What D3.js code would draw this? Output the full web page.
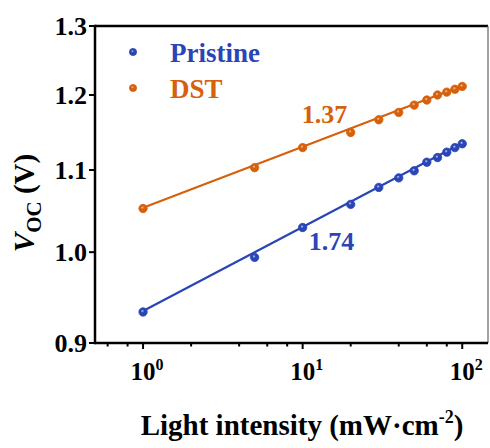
<!DOCTYPE html>
<html>
<head>
<meta charset="utf-8">
<script src="https://cdn.jsdelivr.net/npm/d3@7/dist/d3.min.js"></script>
<style>
  body { margin: 0; background: #fff; }
  svg { display: block; }
  svg text { font-family: "Liberation Serif", "Times New Roman", serif; font-weight: bold; }
</style>
</head>
<body>
<svg id="chart" width="490" height="448"></svg>
<script>
// ---- data ----
const intensity = [1, 5, 10, 20, 30, 40, 50, 60, 70, 80, 90, 100];
const pristineVoc = [0.933, 0.994, 1.029, 1.057, 1.078, 1.090, 1.099, 1.110, 1.116, 1.123, 1.129, 1.134];
const dstVoc = [1.052, 1.103, 1.129, 1.149, 1.166, 1.176, 1.186, 1.193, 1.200, 1.204, 1.208, 1.212];
// fitted lines (end points)
const pristineFit = [[1, 0.934], [100, 1.135]];
const dstFit = [[1, 1.053], [100, 1.213]];
const yTicks = [0.9, 1.0, 1.1, 1.2, 1.3];
const xMajor = [1, 10, 100];
const xMinor = [0.6, 0.8, 2, 4, 6, 8, 20, 40, 60, 80];
const seriesNames = ['Pristine', 'DST'];
const slopes = ['1.74', '1.37'];
const colors = { Pristine: '#2a45b6', DST: '#d6600c' };
const lights = { Pristine: '#c9d2f7', DST: '#f8cba5' };

const margin = { left: 95, top: 26, right: 2, bottom: 105 };
const W = 490, H = 448;
const plotW = W - margin.left - margin.right;
const plotH = H - margin.top - margin.bottom;

const svg = d3.select('#chart');

const x = d3.scaleLog().domain([0.5, 145]).range([0, plotW]);
const y = d3.scaleLog().domain([0.9, 1.3]).range([plotH, 0]);

// gradients for the shiny markers
const defs = svg.append('defs');
seriesNames.forEach(name => {
  const gr = defs.append('radialGradient')
    .attr('id', 'grad-' + name)
    .attr('cx', '0.5').attr('cy', '0.5').attr('r', '0.55')
    .attr('fx', '0.4').attr('fy', '0.35');
  gr.append('stop').attr('offset', '0%').attr('stop-color', lights[name]);
  gr.append('stop').attr('offset', '35%').attr('stop-color', colors[name]);
  gr.append('stop').attr('offset', '100%').attr('stop-color', colors[name]);
});

const g = svg.append('g').attr('transform', `translate(${margin.left},${margin.top})`);

// frame: top and right
g.append('line')
  .attr('x1', 0).attr('x2', plotW).attr('y1', 0).attr('y2', 0)
  .attr('stroke', '#000').attr('stroke-width', 2.5);
g.append('line')
  .attr('x1', plotW).attr('x2', plotW).attr('y1', 0).attr('y2', plotH)
  .attr('stroke', '#666').attr('stroke-width', 1.2);

// x axis
const xAxis = g.append('g').attr('transform', `translate(0,${plotH})`);
xAxis.append('line')
  .attr('x1', 0).attr('x2', plotW)
  .attr('stroke', '#000').attr('stroke-width', 2.5);
xAxis.selectAll('.minor').data(xMinor).enter().append('line')
  .attr('class', 'minor')
  .attr('x1', d => x(d)).attr('x2', d => x(d))
  .attr('y1', 0).attr('y2', 3.5)
  .attr('stroke', '#000').attr('stroke-width', 2);
xAxis.selectAll('.major').data(xMajor).enter().append('line')
  .attr('class', 'major')
  .attr('x1', d => x(d)).attr('x2', d => x(d))
  .attr('y1', 0).attr('y2', 6)
  .attr('stroke', '#000').attr('stroke-width', 2);
const xLab = xAxis.selectAll('.xlab').data(xMajor).enter().append('text')
  .attr('class', 'xlab')
  .attr('x', d => x(d) + 4)
  .attr('y', 37)
  .attr('text-anchor', 'middle')
  .attr('font-size', 25);
xLab.append('tspan').text('10');
xLab.append('tspan')
  .attr('dy', -10).attr('font-size', 16)
  .text(d => Math.round(Math.log10(d)));

// y axis
const yAxis = g.append('g');
yAxis.append('line')
  .attr('y1', -1.2).attr('y2', plotH + 1.2)
  .attr('stroke', '#000').attr('stroke-width', 2.5);
yAxis.selectAll('.ytick').data(yTicks).enter().append('line')
  .attr('class', 'ytick')
  .attr('x1', -6).attr('x2', 0)
  .attr('y1', d => y(d)).attr('y2', d => y(d))
  .attr('stroke', '#000').attr('stroke-width', 2);
yAxis.selectAll('.ylab').data(yTicks).enter().append('text')
  .attr('class', 'ylab')
  .attr('x', -8)
  .attr('y', d => y(d) + 9)
  .attr('text-anchor', 'end')
  .attr('font-size', 26)
  .text(d => d3.format('.1f')(d));

// fit lines
const line = d3.line().x(d => x(d[0])).y(d => y(d[1]));
[['Pristine', pristineFit], ['DST', dstFit]].forEach(([name, fit]) => {
  g.append('path')
    .datum(fit)
    .attr('d', line)
    .attr('fill', 'none')
    .attr('stroke', colors[name])
    .attr('stroke-width', 2.2);
});

// points
[['Pristine', pristineVoc], ['DST', dstVoc]].forEach(([name, vals]) => {
  g.selectAll('.pt-' + name)
    .data(intensity.map((v, i) => [v, vals[i]]))
    .enter().append('circle')
    .attr('class', 'pt-' + name)
    .attr('cx', d => x(d[0]))
    .attr('cy', d => y(d[1]))
    .attr('r', 4.2)
    .attr('fill', `url(#grad-${name})`)
    .attr('stroke', colors[name])
    .attr('stroke-width', 0.8);
});

// slope labels
g.append('text')
  .attr('x', x(10) - 1).attr('y', y(1.162))
  .attr('fill', colors.DST).attr('font-size', 26)
  .text(slopes[1]);
g.append('text')
  .attr('x', x(10) + 6).attr('y', y(1.0) - 2)
  .attr('fill', colors.Pristine).attr('font-size', 26)
  .text(slopes[0]);

// legend
const legend = g.append('g');
seriesNames.forEach((name, i) => {
  const ly = 26 + i * 36;
  legend.append('circle')
    .attr('cx', 38).attr('cy', ly)
    .attr('r', 3.6)
    .attr('fill', `url(#grad-${name})`)
    .attr('stroke', colors[name]).attr('stroke-width', 0.8);
  legend.append('text')
    .attr('x', 75).attr('y', ly + 10)
    .attr('fill', colors[name]).attr('font-size', 27)
    .text(name);
});

// axis titles
const xt = svg.append('text')
  .attr('x', 302).attr('y', 435)
  .attr('text-anchor', 'middle')
  .attr('font-size', 29);
xt.append('tspan').text('Light intensity (mW\u00b7cm');
xt.append('tspan').attr('dy', -12).attr('font-size', 18).text('-2');
xt.append('tspan').attr('dy', 12).text(')');

const yt = svg.append('text')
  .attr('transform', 'translate(34,203) rotate(-90)')
  .attr('text-anchor', 'middle')
  .attr('font-size', 29);
yt.append('tspan').attr('font-style', 'italic').text('V');
yt.append('tspan').attr('dy', 7).attr('font-size', 21).text('OC');
yt.append('tspan').attr('dy', -7).text(' (V)');
</script>
</body>
</html>
